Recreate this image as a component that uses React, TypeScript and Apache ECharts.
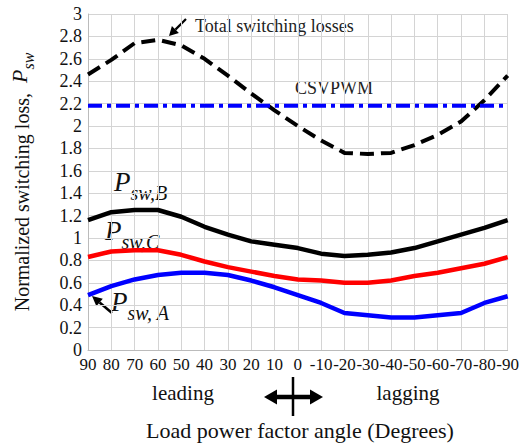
import React, { useEffect, useRef } from "react";
import * as echarts from "echarts";

const categories = ["90", "80", "70", "60", "50", "40", "30", "20", "10", "0", "-10", "-20", "-30", "-40", "-50", "-60", "-70", "-80", "-90"];
const totalLoss = [2.46, 2.59, 2.74, 2.77, 2.72, 2.6, 2.45, 2.29, 2.14, 2.0, 1.87, 1.76, 1.75, 1.76, 1.83, 1.92, 2.04, 2.23, 2.45];
const csvpwm = [2.18, 2.18, 2.18, 2.18, 2.18, 2.18, 2.18, 2.18, 2.18, 2.18, 2.18, 2.18, 2.18, 2.18, 2.18, 2.18, 2.18, 2.18, 2.18];
const pswB = [1.16, 1.23, 1.25, 1.25, 1.19, 1.1, 1.03, 0.97, 0.94, 0.91, 0.86, 0.84, 0.85, 0.87, 0.91, 0.97, 1.03, 1.09, 1.16];
const pswC = [0.83, 0.88, 0.89, 0.89, 0.85, 0.79, 0.74, 0.7, 0.66, 0.63, 0.62, 0.6, 0.6, 0.62, 0.66, 0.69, 0.73, 0.77, 0.83];
const pswA = [0.49, 0.57, 0.63, 0.67, 0.69, 0.69, 0.67, 0.62, 0.56, 0.49, 0.42, 0.33, 0.31, 0.29, 0.29, 0.31, 0.33, 0.42, 0.48];

const FONT = '"Liberation Serif", "Times New Roman", serif';

function pLabel(sub: string, x: number, y: number) {
  return {
    type: "text",
    x,
    y,
    style: {
      text: `{p|P}{s|${sub}}`,
      textVerticalAlign: "top",
      fill: "#111",
      rich: {
        p: { fontSize: 27, fontStyle: "italic", fontFamily: FONT, fill: "#111", verticalAlign: "bottom", padding: [0, 0, 8, 0] },
        s: { fontSize: 20, fontStyle: "italic", fontFamily: FONT, fill: "#111", verticalAlign: "bottom" },
      },
    },
  };
}

export default function App() {
  const ref = useRef<HTMLDivElement>(null);
  useEffect(() => {
    if (!ref.current) return;
    const chart = echarts.init(ref.current, null, { renderer: "svg" });
    const option: any = {
      animation: false,
      backgroundColor: "#fff",
      grid: { left: 73, right: 10, top: 14, bottom: 97, containLabel: false },
      xAxis: {
        type: "category",
        data: categories,
        boundaryGap: false,
        axisLine: { lineStyle: { color: "#bbb", width: 1 } },
        axisTick: { show: false },
        axisLabel: { interval: 0, color: "#111", fontSize: 17, fontFamily: FONT, margin: 6, hideOverlap: false },
        splitLine: { show: true, interval: 0, lineStyle: { color: "#d4d4d4", width: 1 } },
      },
      yAxis: {
        type: "value",
        min: 0,
        max: 3,
        interval: 0.2,
        name: "Normalized switching loss,  {p|P}{s|sw}",
        nameLocation: "middle",
        nameGap: 52,
        nameTextStyle: {
          fontSize: 20,
          fontFamily: FONT,
          color: "#111",
          verticalAlign: "bottom",
          rich: {
            p: { fontSize: 22, fontStyle: "italic", fontFamily: FONT, color: "#111", verticalAlign: "bottom", padding: [0, 0, 6, 0] },
            s: { fontSize: 16, fontStyle: "italic", fontFamily: FONT, color: "#111", verticalAlign: "bottom" },
          },
        },
        axisLine: { show: true, lineStyle: { color: "#bbb", width: 1 } },
        axisTick: { show: false },
        axisLabel: { color: "#111", fontSize: 18, fontFamily: FONT, margin: 6 },
        splitLine: { show: true, lineStyle: { color: "#d4d4d4", width: 1 } },
      },
      series: [
        {
          name: "Total switching losses",
          type: "line",
          data: totalLoss,
          symbol: "none",
          lineStyle: { color: "#000", width: 4, type: [14, 7], cap: "butt" },
          z: 3,
        },
        {
          name: "CSVPWM",
          type: "line",
          data: csvpwm,
          symbol: "none",
          lineStyle: { color: "#0000ff", width: 4, type: [14, 5, 4, 5], cap: "butt" },
          z: 4,
        },
        {
          name: "Psw,B",
          type: "line",
          data: pswB,
          symbol: "none",
          lineStyle: { color: "#000", width: 4.5 },
        },
        {
          name: "Psw,C",
          type: "line",
          data: pswC,
          symbol: "none",
          lineStyle: { color: "#ff0000", width: 4.5 },
        },
        {
          name: "Psw,A",
          type: "line",
          data: pswA,
          symbol: "none",
          lineStyle: { color: "#0000ff", width: 4.5 },
        },
      ],
      graphic: [
        {
          type: "text",
          x: 195,
          y: 26,
          style: { text: "Total switching losses", fontSize: 18, fontFamily: FONT, fill: "#222", textVerticalAlign: "middle" },
        },
        { type: "line", shape: { x1: 186, y1: 19, x2: 175.4, y2: 29.6 }, style: { stroke: "#000", lineWidth: 2.2 } },
        { type: "polygon", shape: { points: [[169, 36], [178.9, 33.1], [171.9, 26.1]] }, style: { fill: "#000" } },
        {
          type: "text",
          x: 295,
          y: 88,
          style: { text: "CSVPWM", fontSize: 18, fontFamily: FONT, fill: "#222", textVerticalAlign: "middle" },
        },
        pLabel("sw,B", 114, 168),
        pLabel("sw,C", 105, 217),
        pLabel("sw, A", 111, 288),
        { type: "line", shape: { x1: 112, y1: 313, x2: 99.6, y2: 302.5 }, style: { stroke: "#000", lineWidth: 2.5 } },
        { type: "polygon", shape: { points: [[92, 296], [102.8, 298.7], [96.4, 306.3]] }, style: { fill: "#000" } },
        {
          type: "text",
          x: 183,
          y: 393,
          style: { text: "leading", fontSize: 21, fontFamily: FONT, fill: "#111", textAlign: "center", textVerticalAlign: "middle" },
        },
        {
          type: "text",
          x: 408,
          y: 393,
          style: { text: "lagging", fontSize: 21, fontFamily: FONT, fill: "#111", textAlign: "center", textVerticalAlign: "middle" },
        },
        { type: "line", shape: { x1: 274, y1: 397, x2: 314, y2: 397 }, style: { stroke: "#000", lineWidth: 4.5 } },
        { type: "polygon", shape: { points: [[264, 397], [277, 389.5], [277, 404.5]] }, style: { fill: "#000" } },
        { type: "polygon", shape: { points: [[323, 397], [310, 389.5], [310, 404.5]] }, style: { fill: "#000" } },
        { type: "line", shape: { x1: 293, y1: 377, x2: 293, y2: 416 }, style: { stroke: "#000", lineWidth: 2.5 } },
        {
          type: "text",
          x: 300,
          y: 430,
          style: { text: "Load power factor angle (Degrees)", fontSize: 22, fontFamily: FONT, fill: "#111", textAlign: "center", textVerticalAlign: "middle" },
        },
      ],
    };
    chart.setOption(option);
    return () => chart.dispose();
  }, []);
  return <div ref={ref} style={{ position: "fixed", left: 0, top: 0, width: 522, height: 447 }} />;
}
